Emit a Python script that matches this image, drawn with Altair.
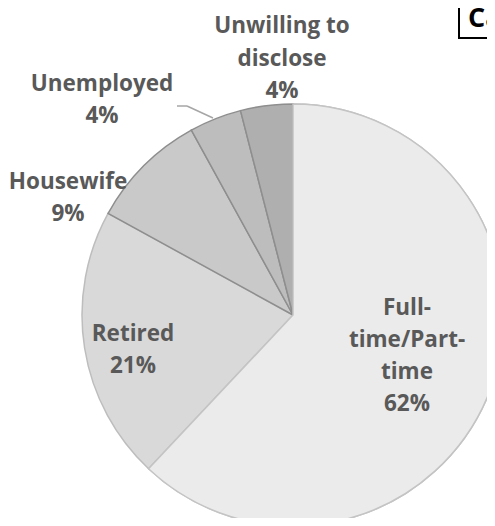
import altair as alt
import pandas as pd

# ---- data ----
categories = ["Full-time/Part-time", "Retired", "Housewife", "Unemployed", "Unwilling to disclose"]
label_names = ["Full-\ntime/Part-\ntime", "Retired", "Housewife", "Unemployed", "Unwilling to\ndisclose"]
shares = [62, 21, 9, 4, 4]

# ---- styles ----
fills = ["#ebebeb", "#d9d9d9", "#c9c9c9", "#bdbdbd", "#afafaf"]
strokes = ["#c4c4c4", "#bdbdbd", "#8e8e8e", "#8e8e8e", "#8e8e8e"]
# (x centre, first baseline) in chart pixels
label_pos = [(399, 306.5), (125, 332.5), (60, 181), (94, 82.5), (274, 25.3)]
CX, CY, R = 285, 307, 211

df = pd.DataFrame({
    "category": categories,
    "label": [f"{n}\n{v}%" for n, v in zip(label_names, shares)],
    "share": shares,
    "idx": list(range(len(categories))),
})

base = alt.Chart(df).transform_window(
    cum="sum(share)", sort=[alt.SortField("idx")], frame=[None, 0]
).transform_calculate(start="datum.cum - datum.share")

theta = alt.Theta("start:Q", scale=alt.Scale(domain=[0, 100], range=[0, 6.283185307179586]))
fill = alt.Fill("category:N", scale=alt.Scale(domain=categories, range=fills), legend=None)
stroke = alt.Stroke("category:N", scale=alt.Scale(domain=categories, range=strokes), legend=None)

pie = base.mark_arc(radius=R, strokeWidth=1.5).encode(
    theta=theta, theta2="cum:Q", x=alt.value(CX), y=alt.value(CY),
    fill=fill, stroke=stroke, order=alt.Order("idx:Q"),
)
top = base.transform_filter("datum.idx == 0").mark_arc(radius=R, strokeWidth=1.5).encode(
    theta=theta, theta2="cum:Q", x=alt.value(CX), y=alt.value(CY),
    fill=fill, stroke=stroke,
)

labels = []
for i, (lx, ly) in enumerate(label_pos):
    labels.append(
        base.transform_filter(f"datum.idx == {i}").mark_text(
            font="Open Sans", fontWeight="bold", fontSize=22.5, color="#595959",
            lineBreak="\n", lineHeight=32.3, align="center", baseline="alphabetic",
        ).encode(x=alt.value(lx), y=alt.value(ly), text="label:N")
    )

one = alt.Chart(df).transform_filter("datum.idx == 3")
leader1 = one.mark_rule(color="#a6a6a6", strokeWidth=1.5).encode(
    x=alt.value(169), x2=alt.value(179), y=alt.value(98), y2=alt.value(98))
leader2 = one.mark_rule(color="#a6a6a6", strokeWidth=1.5).encode(
    x=alt.value(179), x2=alt.value(205), y=alt.value(98), y2=alt.value(110))

title_df = pd.DataFrame({"t": ["Ca"]})
box = alt.Chart(title_df).mark_rect(fillOpacity=0, stroke="black", strokeWidth=2).encode(
    x=alt.value(451), x2=alt.value(540), y=alt.value(-10), y2=alt.value(30))
title = alt.Chart(title_df).mark_text(
    font="Open Sans", fontWeight="bold", fontSize=27, color="black",
    align="left", baseline="alphabetic",
).encode(x=alt.value(460), y=alt.value(19), text="t:N")

chart = alt.layer(pie, top, leader1, leader2, *labels, box, title).properties(
    width=479, height=510, autosize=alt.AutoSizeParams(type="none"), padding=0,
).configure_view(strokeWidth=0)

chart.save("out.html", embed_options={"renderer": "svg", "actions": False})
